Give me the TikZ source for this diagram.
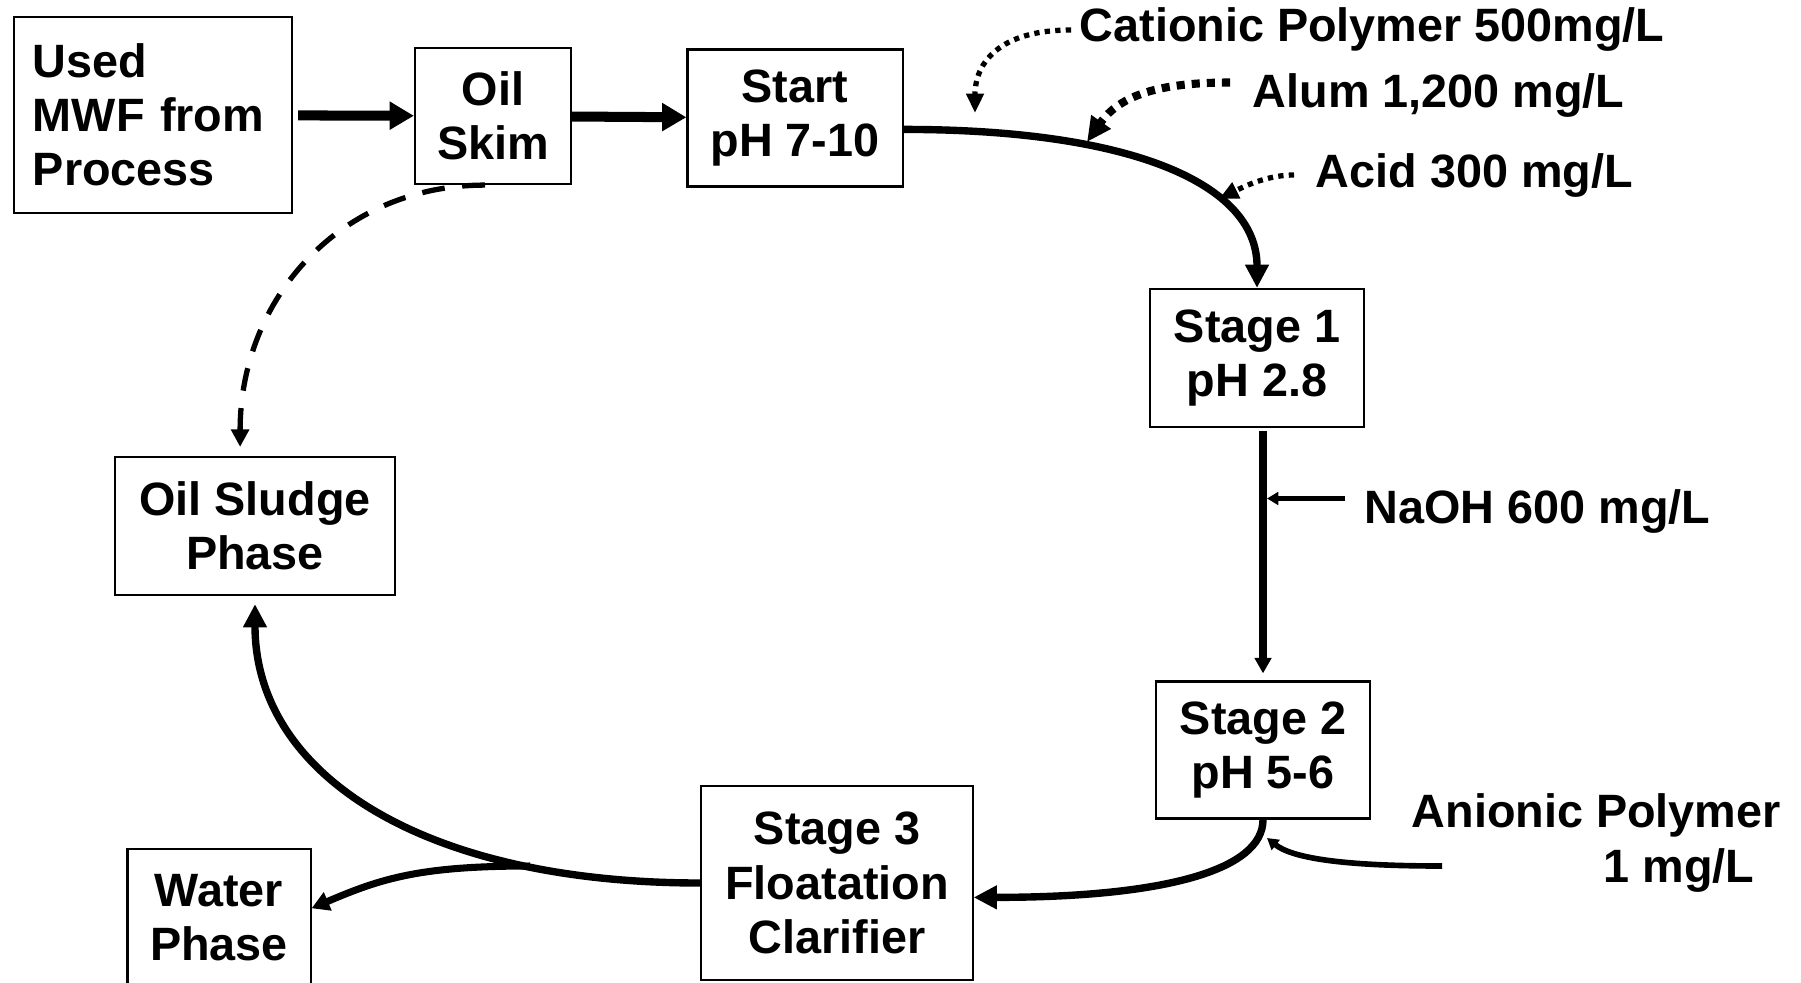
\documentclass[tikz,border=0pt]{standalone}
\usepackage{fontspec}
\setmainfont{Liberation Sans}
\usepackage{tikz}
\usetikzlibrary{arrows.meta}

\newcommand{\boxfont}{\bfseries\fontsize{13.3}{15.4}\selectfont}

\tikzset{
  box/.style={draw, line width=0.6pt, align=center, inner sep=0pt},
  dose/.style={inner sep=0.05cm},
  fat/.style={line width=2.85pt, -{Triangle[length=6.9pt,width=7.6pt]}},
  flow/.style={line width=2.1pt, -{Triangle[length=6.6pt,width=6.4pt]}},
  drop/.style={line width=2.3pt, -{Triangle[length=4.4pt,width=4.6pt]}},
  branch/.style={line width=2pt, -{Triangle[length=5pt,width=5.4pt]}},
  feed/.style={line width=1.6pt, -{Triangle[length=3.2pt,width=3.6pt]}},
  dotarrow/.style={line width=1.5pt, dash pattern=on 1.5pt off 1.5pt, -{Triangle[length=5.5pt,width=4.8pt]}},
  bigdot/.style={line width=2.3pt, dash pattern=on 2.3pt off 2pt, -{Triangle[length=7pt,width=6.4pt]}},
  dashline/.style={line width=1.5pt, dash pattern=on 6.5pt off 5pt, -{Triangle[length=5pt,width=5pt]}}
}

\begin{document}
\begin{tikzpicture}[x=0.01cm, y=-0.01cm, every node/.style={font=\boxfont}]

\useasboundingbox (0,0) rectangle (1801,982);

% Process boxes
\node[box, text width=2.4cm, align=left, inner xsep=0.19cm, minimum height=1.96cm] (used) at (153,115) {Used\\MWF from\\Process};
\node[box, minimum width=1.56cm, minimum height=1.36cm] (skim) at (493,116) {Oil\\Skim};
\node[box, minimum width=2.15cm, minimum height=1.37cm] (start) at (795,118) {Start\\pH 7-10};
\node[box, minimum width=2.14cm, minimum height=1.38cm] (stage1) at (1257,358) {Stage 1\\pH 2.8};
\node[box, minimum width=2.14cm, minimum height=1.37cm] (stage2) at (1263,750) {Stage 2\\pH 5-6};
\node[box, minimum width=2.71cm, minimum height=1.94cm] (stage3) at (837,883) {Stage 3\\Floatation\\Clarifier};
\node[box, minimum width=2.80cm, minimum height=1.38cm] (sludge) at (255,526) {Oil Sludge\\Phase};
\node[box, minimum width=1.83cm, minimum height=1.38cm] (water) at (219,918) {Water\\Phase};

% Chemical doses
\node[dose, anchor=base west] (cat) at (1074,42) {Cationic Polymer 500mg/L};
\node[dose, anchor=base west] (alum) at (1247,107) {Alum 1,200 mg/L};
\node[dose, anchor=base west] (acid) at (1310,187) {Acid 300 mg/L};
\node[dose, anchor=base west] (naoh) at (1359,523) {NaOH 600 mg/L};
\node[dose, anchor=west, align=left] (anion) at (1406,843) {Anionic Polymer\\\hspace*{1.92cm}1 mg/L};

% Main flow
\draw[fat, shorten <=0.05cm] (used) -- (skim);
\draw[fat] (skim) -- (start);
\draw[flow] (start.-6) .. controls +(231,0) and +(0,-103) .. (stage1.north);
\draw[drop, shorten <=0.03cm, shorten >=0.07cm] (stage2.north |- stage1.south) -- (stage2.north);
\draw[flow] (stage2.south) .. controls +(0,51) and +(189,0) .. (stage3.-6);
\draw[flow, shorten >=0.08cm] (stage3.west) .. controls +(-277,0) and +(0,179) .. (sludge.south);

% Water split
\coordinate (split) at (530,866);
\draw[branch] (split) .. controls +(-110,0) and +(70,-30) .. (water.6);

% Skimmed oil
\draw[dashline, shorten <=0.08cm, shorten >=0.09cm] (skim.south) .. controls +(-152,0) and +(0,-158) .. (sludge.102);

% Dosing points
\coordinate (catin) at (975,113);
\coordinate (alumin) at (1087,142);
\coordinate (acidin) at (1219,199);
\coordinate (mix) at (1267,838);
\draw[dotarrow, shorten <=0.03cm] (cat.west) .. controls +(-75,0) and +(0,-50) .. (catin);
\draw[bigdot, shorten <=0.17cm] ([yshift=0.125cm]alum.west) .. controls +(-87,0) and +(33,-47) .. (alumin);
\draw[dotarrow, shorten <=0.16cm] (acid.west) .. controls +(-40,0) and +(30,-15) .. (acidin);
\draw[feed, shorten <=0.14cm, shorten >=0.04cm] ([yshift=0.125cm]naoh.west) -- ([yshift=0.125cm]naoh.west -| stage2.north);
\draw[feed] ([shift={(36,23)}]anion.west) .. controls +(-100,0) and +(25,20) .. (mix);

\end{tikzpicture}
\end{document}
